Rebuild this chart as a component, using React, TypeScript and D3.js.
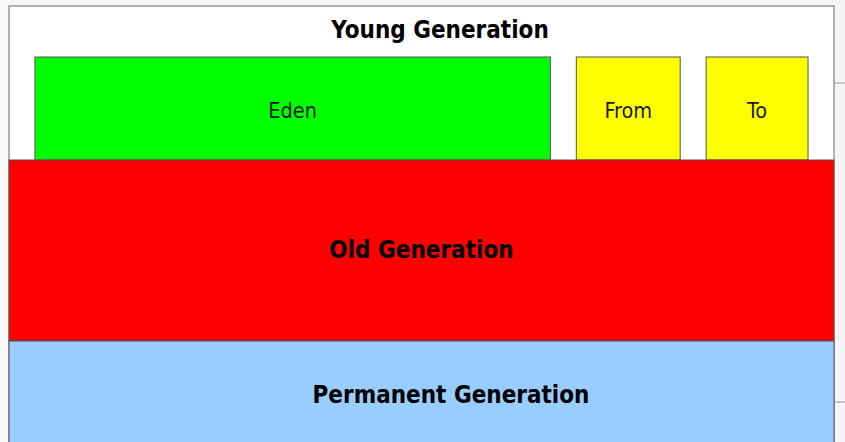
import React from "react";
import * as d3 from "d3";

// heap generations, top to bottom, with their relative heights
const generations = ["Young Generation", "Old Generation", "Permanent Generation"];
const generationHeights = [154, 181, 111];
const generationColors = ["#ffffff", "#ff0000", "#99ccff"];

// spaces inside the young generation and their relative widths
const youngSpaces = ["Eden", "From", "To"];
const youngWidths = [516, 104, 102];
const youngColors = ["#00ff00", "#ffff00", "#ffff00"];
const spaceGap = 26;

const W = 845;
const H = 442;
const frame = { left: 9, right: 834, top: 6 };
const font = "'DejaVu Sans Condensed', 'DejaVu Sans', sans-serif";

const App = () => {
  const totalHeight = d3.sum(generationHeights);
  const y = d3
    .scaleLinear()
    .domain([0, totalHeight])
    .range([frame.top, frame.top + totalHeight]);

  const yStarts = d3.cumsum([0, ...generationHeights]);
  const gens = generations.map((name, i) => ({
    name,
    color: generationColors[i],
    y0: y(yStarts[i]),
    y1: y(yStarts[i + 1]),
  }));

  const totalWidth = d3.sum(youngWidths) + spaceGap * (youngWidths.length + 1);
  const x = d3
    .scaleLinear()
    .domain([0, totalWidth])
    .range([frame.left, frame.right]);

  let cursor = spaceGap;
  const spaces = youngSpaces.map((name, i) => {
    const s = { name, color: youngColors[i], x0: x(cursor), x1: x(cursor + youngWidths[i]) };
    cursor += youngWidths[i] + spaceGap;
    return s;
  });

  const young = gens[0];
  const spaceTop = young.y0 + 51;
  // label centres are a little off the box centres in the original
  const labelX = [421.5, 451];
  const labelDy = [7.5, 6.5];

  return (
    <svg
      width={W}
      height={H}
      style={{ position: "absolute", left: 0, top: 0, display: "block" }}
    >
      <rect x={0} y={0} width={W} height={H} fill="#f5f5f5" />
      <rect x={0} y={0} width={frame.left} height={H} fill="#fafafa" />
      {/* young generation frame */}
      <rect
        x={frame.left}
        y={young.y0}
        width={frame.right - frame.left}
        height={H}
        fill="#ffffff"
        stroke="#999"
        strokeWidth={1.5}
      />
      <line x1={frame.right} x2={W} y1={83} y2={83} stroke="#999" strokeWidth={1} />
      <line x1={frame.right} x2={W} y1={402} y2={402} stroke="#999" strokeWidth={1} />
      <text
        x={440}
        y={young.y0 + 31.5}
        textAnchor="middle"
        fontFamily={font}
        fontWeight="bold"
        fontSize={24}
        fill="#000"
      >
        {young.name}
      </text>
      {spaces.map((s) => (
        <g key={s.name}>
          <rect
            x={s.x0}
            y={spaceTop}
            width={s.x1 - s.x0}
            height={young.y1 - spaceTop}
            fill={s.color}
            stroke="#555"
            strokeWidth={1}
          />
          <text
            x={(s.x0 + s.x1) / 2}
            y={(spaceTop + young.y1) / 2 + 9.5}
            textAnchor="middle"
            fontFamily={font}
            fontSize={21.5}
            fill="#1a1a1a"
          >
            {s.name}
          </text>
        </g>
      ))}
      {gens.slice(1).map((g, i) => (
        <g key={g.name}>
          <rect
            x={frame.left}
            y={g.y0}
            width={frame.right - frame.left}
            height={g.y1 - g.y0}
            fill={g.color}
            stroke="#555"
            strokeWidth={1}
          />
          <text
            x={labelX[i]}
            y={(g.y0 + g.y1) / 2 + labelDy[i]}
            textAnchor="middle"
            fontFamily={font}
            fontWeight="bold"
            fontSize={24}
            fill="#000"
          >
            {g.name}
          </text>
        </g>
      ))}
    </svg>
  );
};

export default App;
